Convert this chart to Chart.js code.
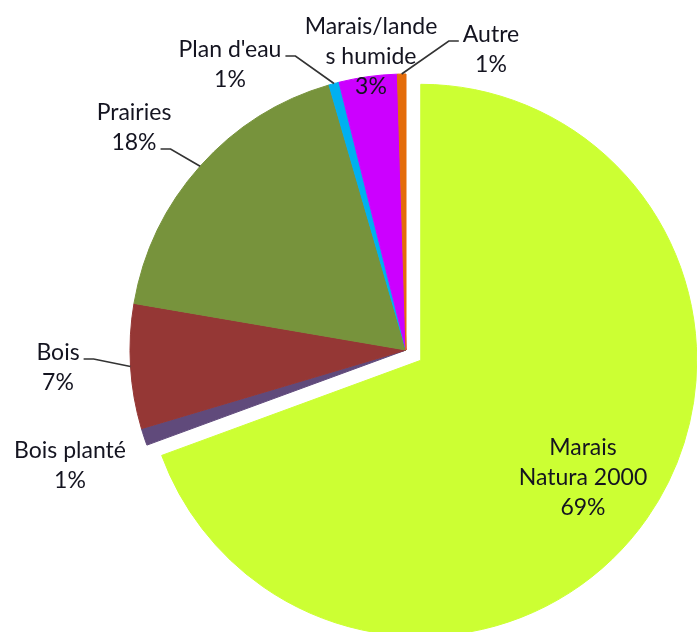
<!doctype html>
<html lang="fr">
<head>
    <meta charset="utf-8">
    <title>Occupation du sol</title>
    <script src="https://cdn.jsdelivr.net/npm/chart.js"></script>
    <style>
        html, body { margin: 0; padding: 0; background: #fff; }
        #wrap { width: 697px; height: 632px; position: relative; }
    </style>
</head>
<body>
    <div id="wrap">
        <canvas id="camembert" width="697" height="632"></canvas>
    </div>
    <script type="text/javascript">
        // Donnees (part en % de la surface)
        var categories = ['Marais Natura 2000', 'Bois planté', 'Bois', 'Prairies', "Plan d'eau", 'Marais/landes humide', 'Autre'];
        var parts = [69.4, 1.0, 7.3, 17.8, 0.6, 3.4, 0.5];
        // texte des etiquettes tel qu'affiche (retour a la ligne comme dans Excel)
        var etiquettes = [
            ['Marais', 'Natura 2000'],
            ['Bois planté'],
            ['Bois'],
            ['Prairies'],
            ["Plan d'eau"],
            ['Marais/lande', 's humide'],
            ['Autre']
        ];
        var couleurs = ['#CCFF33', '#604A7B', '#953735', '#77933C', '#00B0F0', '#CC00FF', '#E46C0A'];

        // part eclatee (decalage en px le long de l'angle median, sans agrandir le rayon)
        var eclatement = [18, 0, 0, 0, 0, 0, 0];

        // placement des etiquettes (centre du bloc, relatif au centre du camembert)
        var placements = [
            { dx: 177, dy: 128 },
            { dx: -336, dy: 116 },
            { dx: -348, dy: 18, trait: { ligne: 0, cote: 'droite' } },
            { dx: -272, dy: -222, trait: { ligne: 1, cote: 'droite' } },
            { dx: -176, dy: -285, trait: { ligne: 0, cote: 'droite' } },
            { dx: -35, dy: -293 },
            { dx: 85, dy: -300, trait: { ligne: 0, cote: 'gauche' } }
        ];
        var interligne = 30;

        var total = parts.reduce(function (a, b) { return a + b; }, 0);

        // decale la part eclatee apres chaque mise a jour
        var pluginEclatement = {
            id: 'eclatement',
            afterUpdate: function (chart) {
                var meta = chart.getDatasetMeta(0);
                meta.data.forEach(function (arc, i) {
                    arc.cx0 = arc.x;
                    arc.cy0 = arc.y;
                    var d = eclatement[i] || 0;
                    if (d) {
                        var mid = (arc.startAngle + arc.endAngle) / 2;
                        arc.x += Math.cos(mid) * d;
                        arc.y += Math.sin(mid) * d;
                    }
                });
            }
        };

        var pluginEtiquettes = {
            id: 'etiquettes',
            afterDatasetsDraw: function (chart) {
                var ctx = chart.ctx;
                var meta = chart.getDatasetMeta(0);
                ctx.save();
                ctx.font = '23px Lato, "Open Sans", sans-serif';
                ctx.textAlign = 'center';
                ctx.textBaseline = 'middle';
                meta.data.forEach(function (arc, i) {
                    var p = placements[i];
                    var ox = arc.cx0, oy = arc.cy0;
                    var lignes = etiquettes[i].concat([Math.round(parts[i] / total * 100) + '%']);
                    var cx = ox + p.dx;
                    var y0 = oy + p.dy - (lignes.length - 1) * interligne / 2;

                    // trait de rappel
                    if (p.trait) {
                        var mid = (arc.startAngle + arc.endAngle) / 2;
                        var ax = arc.x + Math.cos(mid) * arc.outerRadius;
                        var ay = arc.y + Math.sin(mid) * arc.outerRadius;
                        var l = lignes[p.trait.ligne];
                        var w = ctx.measureText(l).width;
                        var ty = y0 + p.trait.ligne * interligne + 6;
                        var x1, x2;
                        if (p.trait.cote === 'droite') {
                            x1 = cx + w / 2 + 4; x2 = x1 + 10;
                        } else {
                            x1 = cx - w / 2 - 4; x2 = x1 - 10;
                        }
                        ctx.strokeStyle = '#333333';
                        ctx.lineWidth = 1.7;
                        ctx.beginPath();
                        ctx.moveTo(x1, ty);
                        ctx.lineTo(x2, ty);
                        ctx.lineTo(ax, ay);
                        ctx.stroke();
                    }

                    ctx.fillStyle = '#141420';
                    lignes.forEach(function (t, k) {
                        ctx.fillText(t, cx, y0 + k * interligne);
                    });
                });
                ctx.restore();
            }
        };

        var ctx = document.getElementById('camembert').getContext('2d');
        var camembert = new Chart(ctx, {
            type: 'pie',
            data: {
                labels: categories,
                datasets: [{
                    data: parts,
                    backgroundColor: couleurs,
                    borderColor: couleurs,
                    borderWidth: 1,
                    clip: false
                }]
            },
            options: {
                responsive: false,
                animation: false,
                radius: 276,
                layout: { padding: { left: 115, right: 0, top: 68, bottom: 0 } },
                plugins: {
                    legend: { display: false },
                    tooltip: { enabled: false }
                }
            },
            plugins: [pluginEclatement, pluginEtiquettes]
        });
    </script>
</body>
</html>
